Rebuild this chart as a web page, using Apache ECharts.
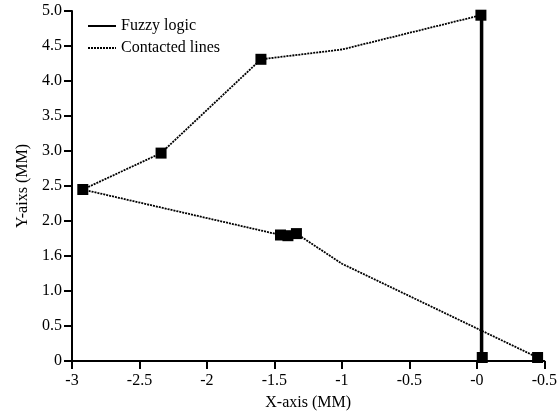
<!DOCTYPE html>
<html>
<head>
<meta charset="utf-8">
<script src="https://cdn.jsdelivr.net/npm/echarts@6/dist/echarts.min.js"></script>
<style>
  html, body { margin: 0; padding: 0; background: #fff; }
  #chart { width: 560px; height: 416px; }
</style>
</head>
<body>
<div id="chart"></div>
<script>
// tick labels as printed in the figure
const xTickLabels = ['-3', '-2.5', '-2', '-1.5', '-1', '-0.5', '-0', '-0.5'];
const yTickLabels = ['0', '0.5', '1.0', '1.6', '2.0', '2.5', '3.0', '3.5', '4.0', '4.5', '5.0'];

// contacted lines, upper branch (x, y)
const upperX = [-2.92, -2.34, -1.60, -1.00, 0.030, 0.035];
const upperY = [2.45, 2.97, 4.31, 4.45, 4.94, 0.05];
// contacted lines, lower branch
const lowerX = [-2.92, -1.455, -1.40, -1.337, -1.00, 0.45];
const lowerY = [2.45, 1.80, 1.79, 1.82, 1.39, 0.05];
// fuzzy logic (vertical)
const fuzzyX = [0.035, 0.035];
const fuzzyY = [4.94, 0];
// marked points
const markX = [-2.92, -2.34, -1.60, 0.030, 0.040, -1.455, -1.40, -1.337, 0.45];
const markY = [2.45, 2.97, 4.31, 4.94, 0.05, 1.80, 1.79, 1.82, 0.05];

const zip = (xs, ys) => xs.map((x, i) => [x, ys[i]]);
const font = 'Liberation Serif';
const dotted = { color: '#000', width: 1.8, type: [2, 1] };

const chart = echarts.init(document.getElementById('chart'));
chart.setOption({
  animation: false,
  grid: { left: 72, right: 14, top: 11, bottom: 54 },
  legend: {
    orient: 'vertical',
    left: 82,
    top: 13,
    itemWidth: 28,
    itemHeight: 12,
    itemGap: 6,
    itemStyle: { opacity: 0, borderWidth: 0 },
    textStyle: { fontFamily: font, fontSize: 16, color: '#000' },
    data: ['Fuzzy logic', 'Contacted lines']
  },
  xAxis: {
    type: 'value',
    min: -3,
    max: 0.5,
    interval: 0.5,
    name: 'X-axis (MM)',
    nameLocation: 'middle',
    nameGap: 34,
    nameTextStyle: { fontFamily: font, fontSize: 16, color: '#000' },
    splitLine: { show: false },
    axisLine: { onZero: false, lineStyle: { color: '#000', width: 2 } },
    axisTick: { inside: false, length: 8, lineStyle: { color: '#000', width: 2 } },
    axisLabel: {
      fontFamily: font, fontSize: 16, color: '#000', margin: 12,
      formatter: v => xTickLabels[Math.round((v + 3) / 0.5)]
    }
  },
  yAxis: {
    type: 'value',
    min: 0,
    max: 5,
    interval: 0.5,
    name: 'Y-aixs (MM)',
    nameLocation: 'middle',
    nameGap: 40,
    nameTextStyle: { fontFamily: font, fontSize: 16, color: '#000' },
    splitLine: { show: false },
    axisLine: { show: true, onZero: false, lineStyle: { color: '#000', width: 2 } },
    axisTick: { show: true, length: 8, lineStyle: { color: '#000', width: 2 } },
    axisLabel: {
      fontFamily: font, fontSize: 16, color: '#000', margin: 10,
      formatter: v => yTickLabels[Math.round(v / 0.5)]
    }
  },
  series: [
    {
      name: 'Fuzzy logic',
      type: 'line',
      data: zip(fuzzyX, fuzzyY),
      symbol: 'none',
      lineStyle: { color: '#000', width: 3.5 },
      itemStyle: { color: '#000' }
    },
    {
      name: 'Contacted lines',
      type: 'line',
      data: zip(upperX, upperY),
      symbol: 'none',
      lineStyle: dotted,
      itemStyle: { color: '#000' }
    },
    {
      name: 'Contacted lines',
      type: 'line',
      data: zip(lowerX, lowerY),
      symbol: 'none',
      lineStyle: dotted,
      itemStyle: { color: '#000' }
    },
    {
      name: 'markers',
      type: 'scatter',
      data: zip(markX, markY),
      symbol: 'rect',
      symbolSize: 11,
      itemStyle: { color: '#000', opacity: 1 },
      z: 5
    }
  ]
});
</script>
</body>
</html>
